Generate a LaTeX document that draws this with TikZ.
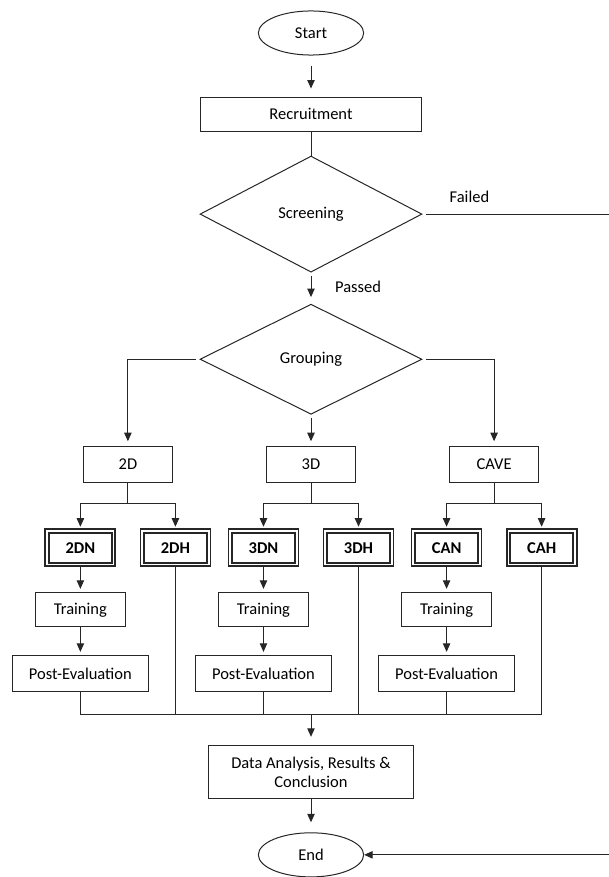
\documentclass[tikz,border=0pt]{standalone}
\usepackage{fontspec}
\setmainfont{Carlito}
\usetikzlibrary{positioning,arrows.meta,shapes.geometric,calc}

\begin{document}
\begin{tikzpicture}[
  font=\fontsize{16.5}{19.5}\selectfont,
  box/.style={draw=black!85, line width=1pt, inner sep=2pt},
  term/.style={box, ellipse, minimum width=37mm, minimum height=15.5mm, inner sep=0pt},
  decide/.style={box, diamond, minimum width=78mm, inner sep=0pt},
  grp/.style={box, minimum width=31.3mm, minimum height=12.7mm},
  sub/.style={box, double, double distance=1.6pt, line width=1.8pt, minimum width=23.4mm, minimum height=11.8mm, font=\fontsize{16.5}{19.5}\selectfont\bfseries},
  stage/.style={box, minimum height=12mm},
  lbl/.style={inner sep=0pt},
  link/.style={draw=black!85, line width=1pt},
  arr/.style={link, -{Triangle[length=3mm,width=2.6mm]}, shorten >=1.2mm},
]
  \useasboundingbox (-311pt,33pt) rectangle (297pt,-844pt);
  % main column
  \node[term] (start) {Start};
  \node[stage, minimum width=78mm, below=14.4mm of start] (recruit) {Recruitment};
  \node[decide, minimum height=40.8mm, below=8.4mm of recruit] (screen) {Screening};
  \node[decide, minimum height=38.7mm, below=10.9mm of screen] (group) {Grouping};
  \node[grp, below=10.9mm of group] (d3) {3D};
  \node[grp, left=32.7mm of d3] (d2) {2D};
  \node[grp, right=32.7mm of d3] (dc) {CAVE};
  % sub groups
  \node[sub, below=16.6mm of d2, xshift=-16.7mm] (n2) {2DN};
  \node[sub, below=16.6mm of d2, xshift=16.7mm] (h2) {2DH};
  \node[sub, below=16.6mm of d3, xshift=-16.7mm] (n3) {3DN};
  \node[sub, below=16.6mm of d3, xshift=16.7mm] (h3) {3DH};
  \node[sub, below=16.6mm of dc, xshift=-16.7mm] (nc) {CAN};
  \node[sub, below=16.6mm of dc, xshift=16.7mm] (hc) {CAH};
  \node[stage, minimum width=31.6mm, below=9.4mm of n2] (t2) {Training};
  \node[stage, minimum width=31.6mm, below=9.4mm of n3] (t3) {Training};
  \node[stage, minimum width=31.6mm, below=9.4mm of nc] (tc) {Training};
  \node[stage, minimum width=47.8mm, minimum height=12.7mm, below=9.8mm of t2] (p2) {Post-Evaluation};
  \node[stage, minimum width=47.8mm, minimum height=12.7mm, below=9.8mm of t3] (p3) {Post-Evaluation};
  \node[stage, minimum width=47.8mm, minimum height=12.7mm, below=9.8mm of tc] (pc) {Post-Evaluation};
  \coordinate[below=7.7mm of p2.south] (bus);
  \node[stage, minimum width=71.7mm, minimum height=18.6mm, align=center, below=10.9mm of bus -| d3] (data) {Data Analysis, Results \&\\Conclusion};
  \node[term, below=11.6mm of data] (end) {End};
  \coordinate (edge) at ($(screen.east)+(67mm,0)$);
  % labels
  \node[lbl, above right=4mm and 9.5mm of screen.east] (failed) {Failed};
  \node[lbl, below right=3mm and 8.4mm of screen.south] (passed) {Passed};
  % connectors
  \draw[arr, shorten <=3.5mm, shorten >=2.8mm] (start) -- (recruit);
  \draw[link] (recruit) -- (screen);
  \draw[arr, shorten <=1.4mm, shorten >=0pt] (screen.east) -- (edge) |- (end.east);
  \draw[arr, shorten <=1mm, shorten >=2.3mm] (screen) -- (group);
  \draw[arr, shorten <=1.4mm, shorten >=1.6mm] (group.west) -| (d2);
  \draw[arr, shorten <=1mm, shorten >=1.6mm] (group) -- (d3);
  \draw[arr, shorten <=1.4mm, shorten >=1.6mm] (group.east) -| (dc);
  \draw[arr] (d2.south) -- ++(0,-7.4mm) -| (n2);
  \draw[arr] (d2.south) -- ++(0,-7.4mm) -| (h2);
  \draw[arr] (d3.south) -- ++(0,-7.4mm) -| (n3);
  \draw[arr] (d3.south) -- ++(0,-7.4mm) -| (h3);
  \draw[arr] (dc.south) -- ++(0,-7.4mm) -| (nc);
  \draw[arr] (dc.south) -- ++(0,-7.4mm) -| (hc);
  \draw[arr] (n2) -- (t2);
  \draw[arr] (n3) -- (t3);
  \draw[arr] (nc) -- (tc);
  \draw[arr] (t2) -- (p2);
  \draw[arr] (t3) -- (p3);
  \draw[arr] (tc) -- (pc);
  \draw[link] (p2) -- (bus);
  \draw[link] (hc) |- (bus);
  \draw[link] (h2) -- (h2 |- bus);
  \draw[link] (p3) -- (p3 |- bus);
  \draw[link] (h3) -- (h3 |- bus);
  \draw[link] (pc) -- (pc |- bus);
  \draw[arr, shorten >=3mm] (bus -| d3) -- (data);
  \draw[arr, shorten >=3.5mm] (data) -- (end);
\end{tikzpicture}
\end{document}
